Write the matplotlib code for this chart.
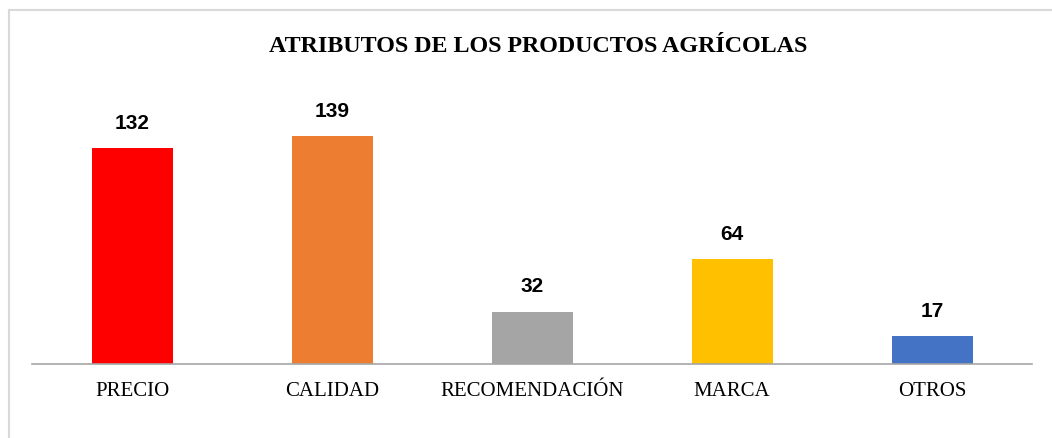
import matplotlib
matplotlib.use("Agg")
import matplotlib.pyplot as plt
from matplotlib.lines import Line2D

categories = ["PRECIO", "CALIDAD", "RECOMENDACIÓN", "MARCA", "OTROS"]
values = [132, 139, 32, 64, 17]
colors = ["#FF0000", "#ED7D31", "#A5A5A5", "#FFC000", "#4472C4"]
title = "ATRIBUTOS DE LOS PRODUCTOS AGRÍCOLAS"

W, H = 1052, 439
fig = plt.figure(figsize=(W / 100, H / 100), dpi=100)
fig.patch.set_facecolor("white")

# chart border (only top and left are visible in the crop)
fig.add_artist(Line2D([9 / W, 9 / W], [0, 1 - 11 / H], transform=fig.transFigure,
                      color="#D9D9D9", lw=1.5))
fig.add_artist(Line2D([9 / W, 1], [1 - 11 / H, 1 - 11 / H], transform=fig.transFigure,
                      color="#D9D9D9", lw=1.5))

ymax = 160
px_per_unit = 1.638
ax_h = ymax * px_per_unit
ax = fig.add_axes([32 / W, (H - 365) / H, 1000 / W, ax_h / H])
x = range(len(categories))
ax.bar(x, values, width=0.405, color=colors)
ax.set_xlim(-0.5, len(categories) - 0.5)
ax.set_ylim(0, ymax)
for s in ["top", "right", "left"]:
    ax.spines[s].set_visible(False)
ax.spines["bottom"].set_color("#A6A6A6")
ax.spines["bottom"].set_linewidth(1.2)
ax.set_yticks([])
ax.set_xticks(list(x))
ax.set_xticklabels(categories, fontfamily="Liberation Serif", fontsize=15)
ax.tick_params(axis="x", length=0, pad=12)

for xi, v in zip(x, values):
    ax.annotate(str(v), (xi, v), xytext=(0, 18.5), textcoords="offset points",
                ha="center", va="center", fontsize=15, fontweight="bold",
                fontfamily="Liberation Sans")

fig.text(538 / W, 1 - 47 / H, title, ha="center", va="center",
         fontfamily="Liberation Serif", fontweight="bold", fontsize=17.3)

fig.savefig("out.png", dpi=100, facecolor="white")
